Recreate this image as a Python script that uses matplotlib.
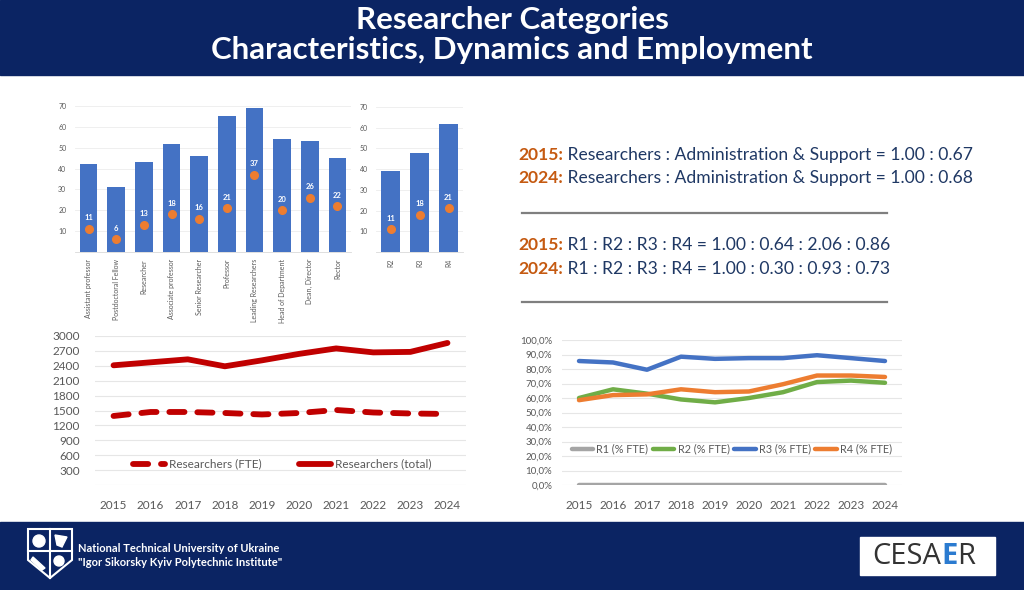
import matplotlib
matplotlib.use("Agg")
import matplotlib.pyplot as plt
from matplotlib.patches import Rectangle, Polygon, Circle

plt.rcParams['font.family'] = ['Lato', 'DejaVu Sans']

# ---- data ----
positions = ["Assistant professor", "Postdoctoral Fellow", "Researcher", "Associate professor",
             "Senior Researcher", "Professor", "Leading Researchers", "Head of Department",
             "Dean, Director", "Rector"]
pos_bar = [42, 31, 43, 52, 46, 65, 69, 54, 53, 45]
pos_dot = [11, 6, 13, 18, 16, 21, 37, 20, 26, 22]

rcat = ["R2", "R3", "R4"]
rcat_bar = [39, 48, 62]
rcat_dot = [11, 18, 21]

years = [2015, 2016, 2017, 2018, 2019, 2020, 2021, 2022, 2023, 2024]
res_fte = [1390, 1470, 1470, 1450, 1420, 1450, 1510, 1460, 1440, 1430]
res_total = [2410, 2470, 2530, 2390, 2510, 2640, 2750, 2670, 2680, 2860]

r1 = [0, 0, 0, 0, 0, 0, 0, 0, 0, 0]
r2 = [60, 66, 63, 59, 57, 60, 64, 71, 72, 70.5]
r3 = [85.5, 84.5, 79.5, 88.5, 87, 87.5, 87.5, 89.5, 87.5, 85.5]
r4 = [58.5, 62, 62.5, 66, 64, 64.5, 69.5, 75.5, 75.5, 74.5]

ratio_lines = [("2015:", " Researchers : Administration & Support = 1.00 : 0.67"),
               ("2024:", " Researchers : Administration & Support = 1.00 : 0.68"),
               ("2015:", " R1 : R2 : R3 : R4 = 1.00 : 0.64 : 2.06 : 0.86"),
               ("2024:", " R1 : R2 : R3 : R4 = 1.00 : 0.30 : 0.93 : 0.73")]

NAVY = '#0b2463'
BLUE = '#4472c4'
ORANGE = '#ed7d31'
GRID = '#d9d9d9'
TICK = '#595959'

W, H = 1024, 590
fig = plt.figure(figsize=(W / 100, H / 100), dpi=100)


def box(x0, y0, x1, y1):
    return [x0 / W, 1 - y1 / H, (x1 - x0) / W, (y1 - y0) / H]


# background layer in pixel coordinates
bg = fig.add_axes([0, 0, 1, 1])
bg.set_xlim(0, W)
bg.set_ylim(H, 0)
bg.axis('off')
bg.add_patch(Rectangle((0, 0), W, 75, color=NAVY))
bg.add_patch(Rectangle((0, 522), W, 68, color=NAVY))
bg.text(512, 20, "Researcher Categories", color='white', fontsize=22.5, fontweight='bold',
        ha='center', va='center')
bg.text(512, 50, "Characteristics, Dynamics and Employment", color='white', fontsize=22.5,
        fontweight='bold', ha='center', va='center')

# ratio text block
for (yr, rest), y in zip(ratio_lines, [155, 178, 245, 269]):
    t = bg.text(518, y, yr, color='#c55a11', fontsize=12.6, fontweight='bold', va='center')
    bg.annotate(rest, xy=(1, 0.5), xycoords=t, va='center', ha='left',
                color='#1f3864', fontsize=12.6)
bg.plot([522, 887], [213, 213], color='#7f7f7f', lw=1.6)
bg.plot([522, 887], [302, 302], color='#7f7f7f', lw=1.6)

# footer: simple emblem, university name, CESAER box
bg.add_patch(Polygon([(28, 529), (72, 529), (72, 560), (50, 578), (28, 560)], closed=True,
                     fill=False, ec='white', lw=1.5))
bg.plot([50, 50], [529, 578], color='white', lw=1.5)
bg.plot([28, 72], [551, 551], color='white', lw=1.5)
bg.add_patch(Circle((39, 541), 6, color='white'))
bg.add_patch(Polygon([(55, 535), (67, 537), (62, 547), (57, 545)], color='white'))
bg.add_patch(Polygon([(33, 557), (45, 568), (42, 570), (31, 560)], color='white'))
bg.add_patch(Circle((59, 561), 5, color='white'))
bg.text(78, 548, "National Technical University of Ukraine", color='white', fontsize=8,
        fontweight='bold', va='center')
bg.text(78, 563, '"Igor Sikorsky Kyiv Polytechnic Institute"', color='white', fontsize=8,
        fontweight='bold', va='center')
bg.add_patch(Rectangle((860, 537), 135, 38, color='white'))
t1 = bg.text(872, 557, "CESA", color='#333333', fontsize=21, va='center',
             family=['Open Sans', 'DejaVu Sans'])
t2 = bg.annotate("E", xy=(1, 0.5), xycoords=t1, va='center', color='#2b7bd0', fontsize=21,
                 fontweight='bold', family=['Open Sans', 'DejaVu Sans'])
bg.annotate("R", xy=(1, 0.5), xycoords=t2, va='center', color='#333333', fontsize=21,
            family=['Open Sans', 'DejaVu Sans'])


def bar_panel(ax, labels, bars, dots):
    xs = range(len(labels))
    ax.bar(xs, bars, width=0.63, color=BLUE, zorder=2)
    ax.plot(xs, dots, 'o', color=ORANGE, ms=5.5, zorder=3)
    for x, v in zip(xs, dots):
        ax.annotate(str(v), (x, v), xytext=(0, 8), textcoords='offset points',
                    ha='center', va='center', color='white', fontsize=5.5, fontweight='bold')
    ax.set_xlim(-0.5, len(labels) - 0.5)
    ax.set_ylim(0, 70)
    ax.set_yticks(range(10, 71, 10))
    ax.set_xticks(list(xs))
    ax.set_xticklabels(labels, rotation=90, fontsize=5, color=TICK)
    ax.tick_params(axis='y', labelsize=5, colors=TICK, length=0, pad=6)
    ax.tick_params(axis='x', length=0, pad=5)
    ax.grid(axis='y', color='#ececec', lw=0.6, zorder=0)
    for s in ['top', 'right', 'left']:
        ax.spines[s].set_visible(False)
    ax.spines['bottom'].set_color(GRID)
    ax.spines['bottom'].set_linewidth(0.6)


ax1 = fig.add_axes(box(74.7, 106, 351.3, 252))
bar_panel(ax1, positions, pos_bar, pos_dot)

ax2 = fig.add_axes(box(376, 107, 463, 252))
bar_panel(ax2, rcat, rcat_bar, rcat_dot)

# researchers headcount
ax3 = fig.add_axes(box(95, 336, 466, 485))
ax3.plot(years, res_fte, color='#c00000', lw=4.2, dashes=(2.6, 2.2), dash_capstyle='round',
         label="Researchers (FTE)")
ax3.plot(years, res_total, color='#c00000', lw=4.2, solid_capstyle='round',
         label="Researchers (total)")
ax3.set_xlim(2014.5, 2024.5)
ax3.set_ylim(0, 3000)
ax3.set_yticks(range(0, 3001, 300))
ax3.set_yticklabels([''] + [str(v) for v in range(300, 3001, 300)])
ax3.set_xticks(years)
ax3.tick_params(axis='both', labelsize=8.5, colors=TICK, length=0)
ax3.tick_params(axis='x', pad=11)
ax3.tick_params(axis='y', pad=11)
ax3.grid(axis='y', color='#e6e6e6', lw=0.8)
for s in ax3.spines.values():
    s.set_visible(False)
leg = ax3.legend(loc='center', bbox_to_anchor=(0.505, 0.14), ncol=2, frameon=False,
                 fontsize=8.5, handlelength=2.7, columnspacing=3.2, handletextpad=0.3)
for t in leg.get_texts():
    t.set_color(TICK)

# researcher category shares
ax4 = fig.add_axes(box(562, 340, 902, 485))
ax4.plot(years, r1, color='#a5a5a5', lw=3.2, solid_capstyle='round', label="R1 (% FTE)")
ax4.plot(years, r2, color='#70ad47', lw=3.2, solid_capstyle='round', label="R2 (% FTE)")
ax4.plot(years, r3, color=BLUE, lw=3.2, solid_capstyle='round', label="R3 (% FTE)")
ax4.plot(years, r4, color=ORANGE, lw=3.2, solid_capstyle='round', label="R4 (% FTE)")
ax4.set_xlim(2014.5, 2024.5)
ax4.set_ylim(0, 100)
ax4.set_yticks(range(0, 101, 10))
ax4.set_yticklabels([f"{v},0%" for v in range(0, 101, 10)])
ax4.set_xticks(years)
ax4.tick_params(axis='y', labelsize=7, colors=TICK, length=0, pad=7)
ax4.tick_params(axis='x', labelsize=8.5, colors=TICK, length=0, pad=11)
ax4.grid(axis='y', color='#e6e6e6', lw=0.8)
for s in ax4.spines.values():
    s.set_visible(False)
leg = ax4.legend(loc='center', bbox_to_anchor=(0.5, 0.248), ncol=4, frameon=False,
                 fontsize=7.8, handlelength=2.0, columnspacing=0.4, handletextpad=0.3)
for t in leg.get_texts():
    t.set_color(TICK)

fig.savefig("out.png", dpi=100)
